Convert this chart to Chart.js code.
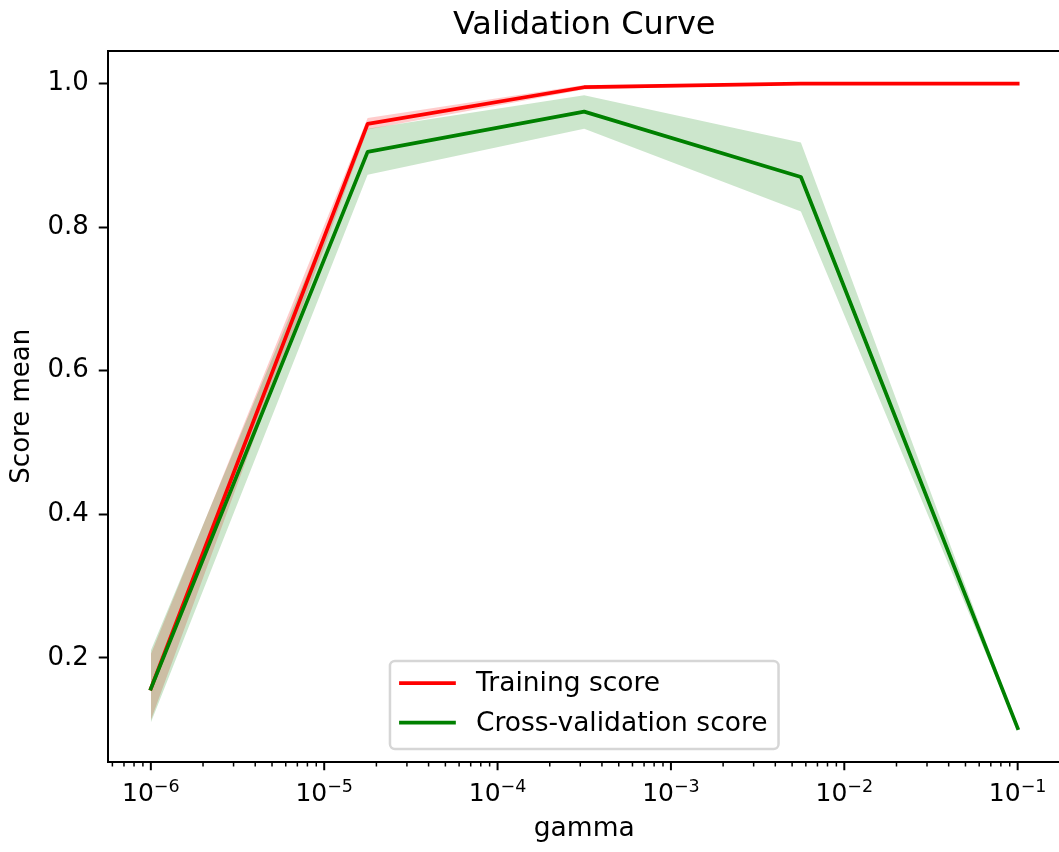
<!DOCTYPE html>
<html>
<head>
<meta charset="utf-8">
<title>Validation Curve</title>
<script src="https://cdn.jsdelivr.net/npm/chart.js@4.4.1/dist/chart.umd.min.js"></script>
<style>
  html, body { margin: 0; padding: 0; background: #fff; overflow: hidden; }
  #wrap { width: 1061px; height: 852px; position: relative; }
</style>
</head>
<body>
<div id="wrap"><canvas id="curve"></canvas></div>
<script>
// gamma grid (logspace -6 .. -1, 5 points)
const gammaValues = [1e-6, 1.78e-5, 3.16e-4, 5.62e-3, 1e-1];

const trainMean  = [0.157, 0.944, 0.995, 1.000, 1.000];
const trainLower = [0.113, 0.936, 0.992, 0.999, 1.000];
const trainUpper = [0.205, 0.952, 0.998, 1.000, 1.000];

const cvMean  = [0.157, 0.905, 0.961, 0.870, 0.102];
const cvLower = [0.110, 0.873, 0.937, 0.822, 0.100];
const cvUpper = [0.210, 0.937, 0.984, 0.918, 0.104];

const xTickExponents = [-6, -5, -4, -3, -2, -1];
const yTicks = [0.2, 0.4, 0.6, 0.8, 1.0];

const FONT = 'DejaVu Sans';
Chart.defaults.font.family = FONT;
Chart.defaults.color = '#000';

function pts(values) {
    return gammaValues.map((g, i) => ({ x: g, y: values[i] }));
}

// log x ticks with minor marks and 10^n labels
const logTicks = {
    id: 'logTicks',
    afterDraw(chart) {
        const { ctx, chartArea } = chart;
        const xs = chart.scales.x;
        const base = chartArea.bottom;
        ctx.save();
        ctx.strokeStyle = '#000';
        ctx.lineWidth = 1.5;
        for (let e = -7; e <= 0; e++) {
            for (let m = 2; m <= 9; m++) {
                const v = m * Math.pow(10, e);
                if (v < xs.min || v > xs.max) continue;
                const px = xs.getPixelForValue(v);
                ctx.beginPath();
                ctx.moveTo(px, base);
                ctx.lineTo(px, base + 5);
                ctx.stroke();
            }
        }
        ctx.lineWidth = 2;
        ctx.fillStyle = '#000';
        ctx.textBaseline = 'alphabetic';
        ctx.textAlign = 'left';
        xTickExponents.forEach(e => {
            const px = xs.getPixelForValue(Math.pow(10, e));
            ctx.beginPath();
            ctx.moveTo(px, base);
            ctx.lineTo(px, base + 8.75);
            ctx.stroke();

            const sup = '\u2212' + Math.abs(e);
            ctx.font = `25px "${FONT}"`;
            const wb = ctx.measureText('10').width;
            ctx.font = `17.5px "${FONT}"`;
            const we = ctx.measureText(sup).width;
            const x0 = px - (wb + we) / 2;
            ctx.font = `25px "${FONT}"`;
            ctx.fillText('10', x0, base + 39.5);
            ctx.font = `17.5px "${FONT}"`;
            ctx.fillText(sup, x0 + wb, base + 30.5);
        });
        ctx.restore();
    }
};

// boxed legend at lower centre of the axes
const boxLegend = {
    id: 'boxLegend',
    afterDraw(chart) {
        const { ctx, chartArea } = chart;
        const items = chart.data.datasets.filter(d => d.legend);
        ctx.save();
        ctx.font = `26.5px "${FONT}"`;
        const textW = Math.max(...items.map(d => ctx.measureText(d.label).width));
        const w = 86 + textW + 11;
        const h = 88;
        const left = (chartArea.left + chartArea.right) / 2 - w / 2;
        const top = chartArea.bottom - 12.5 - h;
        ctx.beginPath();
        ctx.roundRect(left, top, w, h, 5);
        ctx.fillStyle = 'rgba(255,255,255,0.8)';
        ctx.fill();
        ctx.strokeStyle = 'rgba(204,204,204,0.8)';
        ctx.lineWidth = 2.5;
        ctx.stroke();

        ctx.textBaseline = 'middle';
        ctx.textAlign = 'left';
        items.forEach((d, i) => {
            const y = top + 22 + i * 39.7;
            ctx.strokeStyle = d.borderColor;
            ctx.lineWidth = 3.75;
            ctx.lineCap = 'square';
            ctx.beginPath();
            ctx.moveTo(left + 11, y);
            ctx.lineTo(left + 64, y);
            ctx.stroke();
            ctx.fillStyle = '#000';
            ctx.fillText(d.label, left + 86, y + 1);
        });
        ctx.restore();
    }
};

const bandStyle = { borderWidth: 0, pointRadius: 0, pointHoverRadius: 0 };

new Chart(document.getElementById('curve'), {
    type: 'line',
    data: {
        datasets: [
            {
                label: 'Training score', legend: true, data: pts(trainMean),
                borderColor: '#ff0000', borderWidth: 3.75, pointRadius: 0,
                borderCapStyle: 'square', borderJoinStyle: 'round', fill: false, order: 1
            },
            {
                label: 'Cross-validation score', legend: true, data: pts(cvMean),
                borderColor: '#008000', borderWidth: 3.75, pointRadius: 0,
                borderCapStyle: 'square', borderJoinStyle: 'round', fill: false, order: 0
            },
            { label: 'train+', data: pts(trainUpper), fill: '+1', backgroundColor: 'rgba(255,0,0,0.2)', order: 5, ...bandStyle },
            { label: 'train-', data: pts(trainLower), fill: false, order: 6, ...bandStyle },
            { label: 'cv+', data: pts(cvUpper), fill: '+1', backgroundColor: 'rgba(0,128,0,0.2)', order: 3, ...bandStyle },
            { label: 'cv-', data: pts(cvLower), fill: false, order: 4, ...bandStyle }
        ]
    },
    options: {
        responsive: true,
        maintainAspectRatio: false,
        animation: false,
        layout: { padding: 0 },
        plugins: {
            legend: { display: false },
            tooltip: { enabled: false },
            title: { display: false },
            filler: { drawTime: 'beforeDatasetsDraw' }
        },
        scales: {
            x: {
                type: 'logarithmic',
                position: 'bottom',
                min: Math.pow(10, -6.25),
                max: Math.pow(10, -0.75),
                grid: { display: true, drawOnChartArea: false, drawTicks: false },
                border: { display: true, color: '#000', width: 2 },
                ticks: { display: false },
                title: { display: true, text: 'gamma', font: { size: 26.5 }, color: '#000', padding: { top: 0, bottom: 7 } },
                afterFit(scale) { scale.height = 90.5; }
            },
            top: {
                type: 'linear',
                position: 'top',
                min: 0,
                max: 1,
                grid: { display: true, drawOnChartArea: false, drawTicks: false },
                border: { display: true, color: '#000', width: 2 },
                ticks: { display: false },
                title: { display: true, text: 'Validation Curve', font: { size: 32 }, color: '#000', padding: { top: 6, bottom: 0 } },
                afterFit(scale) { scale.height = 51; }
            },
            y: {
                type: 'linear',
                position: 'left',
                min: 0.0555,
                max: 1.0455,
                afterBuildTicks(scale) { scale.ticks = yTicks.map(v => ({ value: v })); },
                grid: { drawOnChartArea: false, drawTicks: true, tickLength: 8.75, tickWidth: 2, tickColor: '#000' },
                border: { display: true, color: '#000', width: 2 },
                ticks: { font: { size: 26 }, color: '#000', padding: 10, callback: v => v.toFixed(1) },
                title: { display: true, text: 'Score mean', font: { size: 26 }, color: '#000', padding: { top: 7, bottom: 0 } },
                afterFit(scale) { scale.width = 107.5; }
            }
        }
    },
    plugins: [logTicks, boxLegend]
});
</script>
</body>
</html>
